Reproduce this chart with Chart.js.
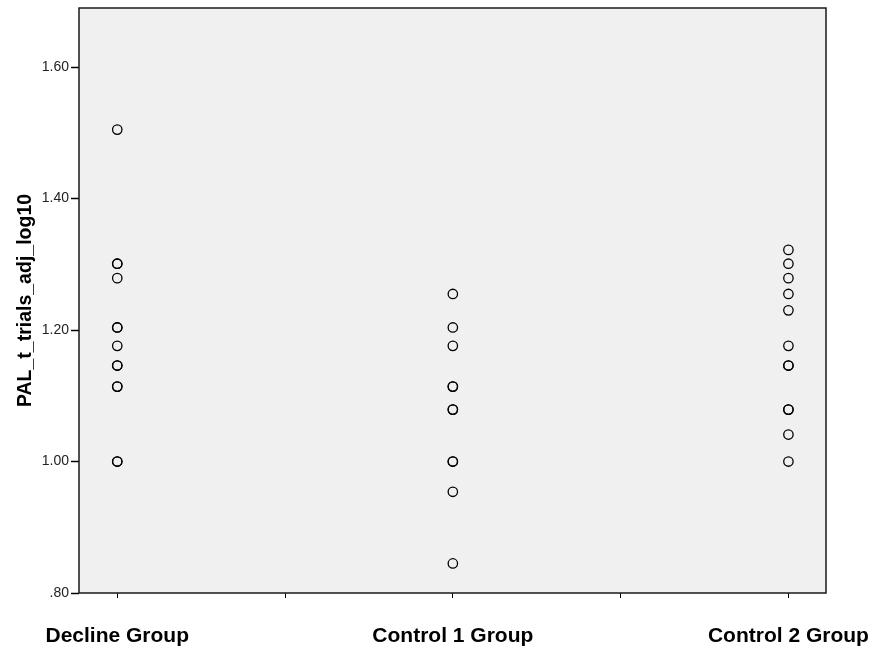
<!DOCTYPE html>
<html>
<head>
<meta charset="utf-8">
<script src="https://cdn.jsdelivr.net/npm/chart.js@4/dist/chart.umd.min.js"></script>
<style>
  html, body { margin: 0; padding: 0; background: #fff; }
  #wrap { width: 884px; height: 651px; position: relative; }
</style>
</head>
<body>
<div id="wrap"><canvas id="c" width="884" height="651"></canvas></div>
<script>
// Groups along the horizontal axis
const groups = ['Decline Group', 'Control 1 Group', 'Control 2 Group'];

// PAL_t_trials_adj_log10 per participant (repeated values overlap)
const declineValues  = [1.505, 1.301, 1.301, 1.279, 1.204, 1.204, 1.176, 1.146, 1.146, 1.114, 1.114, 1.000, 1.000];
const control1Values = [1.255, 1.204, 1.176, 1.114, 1.114, 1.079, 1.079, 1.000, 1.000, 0.954, 0.845];
const control2Values = [1.322, 1.301, 1.279, 1.255, 1.230, 1.176, 1.146, 1.146, 1.079, 1.079, 1.041, 1.000];

// Vertical axis ticks
const yTickValues = [0.8, 1.0, 1.2, 1.4, 1.6];
const yTickLabels = ['.80', '1.00', '1.20', '1.40', '1.60'];
const yTitle = 'PAL_t_trials_adj_log10';

const FONT = '"Liberation Sans", Arial, Helvetica, sans-serif';
Chart.defaults.font.family = FONT;

const seriesByGroup = [declineValues, control1Values, control2Values];
const points = [];
seriesByGroup.forEach((vals, gi) => vals.forEach(v => points.push({ x: gi + 1, y: v })));

// Grey plotting panel with a dark frame
const plotFrame = {
  id: 'plotFrame',
  beforeDraw(chart) {
    const { ctx, chartArea: a } = chart;
    ctx.save();
    ctx.fillStyle = '#f0f0f0';
    ctx.fillRect(a.left, a.top, a.right - a.left, a.bottom - a.top);
    ctx.restore();
  },
  beforeDatasetsDraw(chart) {
    const { ctx, chartArea: a } = chart;
    ctx.save();
    ctx.strokeStyle = '#1a1a1a';
    ctx.lineWidth = 1.5;
    ctx.strokeRect(a.left, a.top, a.right - a.left, a.bottom - a.top);
    ctx.restore();
  }
};

new Chart(document.getElementById('c'), {
  type: 'scatter',
  data: {
    datasets: [{
      data: points,
      pointRadius: 4.7,
      pointBorderWidth: 1.3,
      pointBorderColor: '#000',
      pointBackgroundColor: 'rgba(0,0,0,0)',
      pointStyle: 'circle'
    }]
  },
  options: {
    responsive: false,
    animation: false,
    layout: { padding: { top: 8, right: 58, left: 0, bottom: 0 } },
    plugins: { legend: { display: false }, tooltip: { enabled: false } },
    scales: {
      x: {
        type: 'linear',
        min: 0.886,
        max: 3.112,
        afterBuildTicks: s => { s.ticks = [1, 1.5, 2, 2.5, 3].map(v => ({ value: v })); },
        afterFit: s => { s.height = 58; s.paddingLeft = 0; s.paddingRight = 0; },
        ticks: {
          autoSkip: false,
          maxRotation: 0,
          minRotation: 0,
          padding: 26,
          color: '#000',
          font: { family: FONT, size: 21, weight: 'bold' },
          callback: v => (Number.isInteger(v) ? groups[v - 1] : '')
        },
        grid: { drawOnChartArea: false, tickLength: 5, tickColor: '#000', tickWidth: 1 },
        border: { display: false }
      },
      y: {
        min: 0.8,
        max: 1.69,
        afterBuildTicks: s => { s.ticks = yTickValues.map(v => ({ value: v })); },
        afterFit: s => { s.width = 79; s.paddingTop = 0; s.paddingBottom = 0; },
        ticks: {
          padding: 2,
          color: '#222',
          font: { family: FONT, size: 14 },
          callback: v => {
            const i = yTickValues.findIndex(t => Math.abs(t - v) < 1e-9);
            return i >= 0 ? yTickLabels[i] : '';
          }
        },
        grid: { drawOnChartArea: false, tickLength: 8, tickColor: '#000', tickWidth: 1.5 },
        border: { display: false },
        title: {
          display: true,
          text: yTitle,
          color: '#000',
          font: { family: FONT, size: 19.5, weight: 'bold' },
          padding: { top: 14, bottom: 0 }
        }
      }
    }
  },
  plugins: [plotFrame]
});
</script>
</body>
</html>
